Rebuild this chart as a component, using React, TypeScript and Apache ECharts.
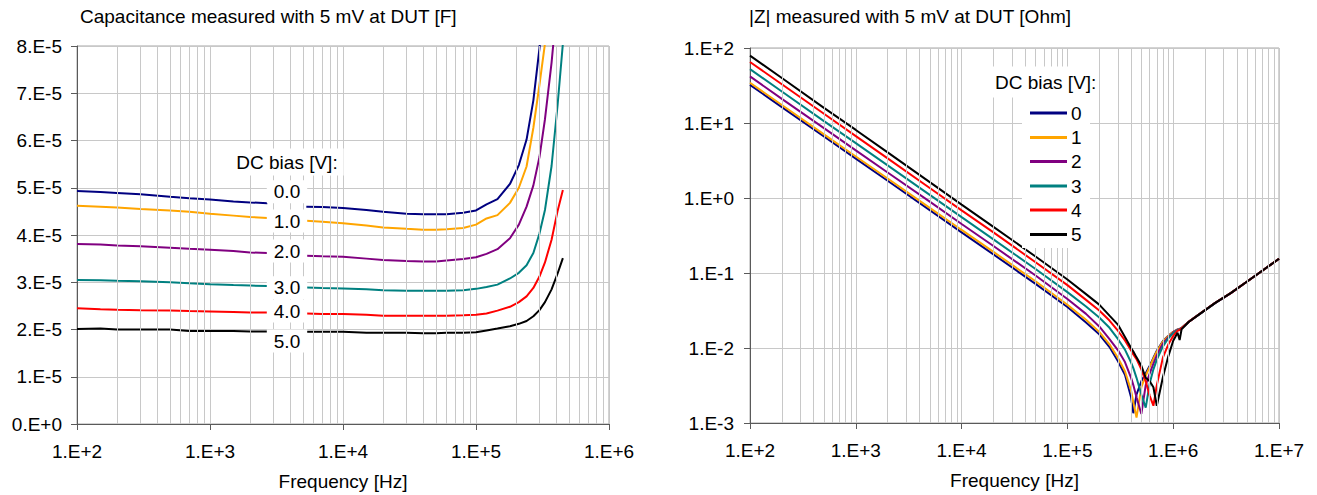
import React, { useEffect, useRef } from 'react';
import * as echarts from 'echarts';

// ---------- Left chart: capacitance (values in 1e-5 F) ----------
const capFreq = [100, 150, 200, 300, 500, 700, 1000, 1500, 2000, 2700, 3800, 5300, 7000, 10000, 15000, 20000, 30000, 40000, 50000, 60000, 80000, 100000, 120000, 145000, 180000, 210000, 240000, 270000, 300000, 330000, 370000, 410000, 450000];
const cap0 = [4.93, 4.91, 4.89, 4.86, 4.81, 4.78, 4.75, 4.71, 4.69, 4.67, null, 4.60, 4.59, 4.57, 4.53, 4.49, 4.45, 4.44, 4.44, 4.44, 4.47, 4.52, 4.65, 4.76, 5.08, 5.48, 6.02, 6.85, 7.95, 9.3, null, null, null];
const cap1 = [4.62, 4.60, 4.58, 4.55, 4.52, 4.49, 4.45, 4.41, 4.38, 4.36, null, 4.30, 4.28, 4.25, 4.20, 4.16, 4.13, 4.11, 4.11, 4.12, 4.15, 4.22, 4.35, 4.42, 4.68, 5.0, 5.45, 6.27, 7.18, 8.05, 9.5, null, null];
const cap2 = [3.81, 3.80, 3.78, 3.76, 3.73, 3.71, 3.69, 3.66, 3.63, 3.62, null, 3.56, 3.55, 3.54, 3.50, 3.47, 3.45, 3.44, 3.44, 3.46, 3.49, 3.53, 3.60, 3.70, 3.93, 4.22, 4.60, 5.05, 5.65, 6.45, 7.65, 9.0, null];
const cap3 = [3.05, 3.04, 3.03, 3.02, 3.00, 2.98, 2.96, 2.94, 2.93, 2.92, null, 2.89, 2.88, 2.87, 2.85, 2.83, 2.82, 2.82, 2.82, 2.82, 2.83, 2.86, 2.90, 2.95, 3.08, 3.20, 3.36, 3.62, 4.03, 4.53, 5.46, 6.73, 8.05];
const cap4 = [2.45, 2.43, 2.42, 2.41, 2.40, 2.39, 2.38, 2.37, 2.36, 2.36, null, 2.34, 2.33, 2.33, 2.31, 2.29, 2.29, 2.29, 2.29, 2.29, 2.30, 2.31, 2.34, 2.40, 2.48, 2.58, 2.70, 2.88, 3.12, 3.42, 3.90, 4.50, 4.95];
const cap5 = [2.01, 2.02, 2.00, 2.00, 2.00, 1.97, 1.97, 1.97, 1.96, 1.96, null, 1.95, 1.95, 1.95, 1.93, 1.93, 1.93, 1.92, 1.92, 1.93, 1.93, 1.94, 1.98, 2.02, 2.07, 2.12, 2.18, 2.28, 2.41, 2.58, 2.85, 3.18, 3.51];
const capSeries = [cap0, cap1, cap2, cap3, cap4, cap5];
const capNames = ['0.0', '1.0', '2.0', '3.0', '4.0', '5.0'];

// ---------- Right chart: |Z| in Ohm ----------
const zFreq = [100, 200, 500, 1e3, 2e3, 5e3, 1e4, 2e4, 5e4, 1e5, 1.5e5, 2e5, 2.5e5, 3e5, 3.5e5, 4e5, 4.2e5, 4.5e5, 5e5, 5.5e5, 6e5, 6.5e5, 7e5, 8e5, 9e5, 1e6, 1.1e6, 1.15e6, 1.2e6, 1.4e6, 1.8e6, 2.5e6, 3.5e6, 5e6, 7e6, 1e7];
const z0 = [32.3, 16.3, 6.62, 3.35, 1.70, 0.690, 0.348, 0.177, 0.0717, 0.0352, 0.0219, 0.0152, 0.0103, 0.0067, 0.0044, 0.0022, 0.00135, 0.0024, 0.0036, 0.0046, 0.0058, 0.0074, 0.0092, 0.0124, 0.0146, 0.0164, 0.0177, 0.0180, 0.0185, 0.0224, 0.0287, 0.0400, 0.0540, 0.0770, 0.108, 0.155];
const z1 = [34.4, 17.4, 7.04, 3.58, 1.82, 0.739, 0.375, 0.191, 0.0775, 0.0377, 0.0238, 0.0164, 0.0112, 0.0074, 0.0049, 0.0027, 0.0019, 0.00118, 0.0030, 0.0043, 0.0056, 0.0072, 0.0090, 0.0122, 0.0145, 0.0163, 0.0176, 0.0179, 0.0185, 0.0224, 0.0288, 0.0401, 0.0541, 0.0771, 0.108, 0.155];
const z2 = [41.8, 21.0, 8.53, 4.31, 2.19, 0.894, 0.450, 0.229, 0.0925, 0.0451, 0.0285, 0.0194, 0.0131, 0.0094, 0.0065, 0.0040, 0.0032, 0.0022, 0.00132, 0.0032, 0.0046, 0.0062, 0.0080, 0.0115, 0.0140, 0.0160, 0.0175, 0.0178, 0.0184, 0.0223, 0.0288, 0.0400, 0.0540, 0.0770, 0.108, 0.155];
const z3 = [52.2, 26.3, 10.6, 5.38, 2.72, 1.10, 0.555, 0.281, 0.113, 0.0556, 0.0358, 0.0255, 0.0186, 0.0132, 0.0095, 0.0064, 0.0054, 0.0040, 0.0024, 0.0016, 0.0034, 0.0052, 0.0070, 0.0105, 0.0135, 0.0157, 0.0173, 0.0176, 0.0184, 0.0224, 0.0287, 0.0400, 0.0541, 0.0771, 0.108, 0.155];
const z4 = [65.0, 32.9, 13.3, 6.69, 3.37, 1.36, 0.683, 0.348, 0.139, 0.0689, 0.0438, 0.0316, 0.0232, 0.0170, 0.0126, 0.0093, 0.0082, 0.0071, 0.0052, 0.0036, 0.0023, 0.0017, 0.0032, 0.0075, 0.0112, 0.0145, 0.0170, 0.0174, 0.0183, 0.0223, 0.0288, 0.0401, 0.0540, 0.0771, 0.108, 0.155];
const z5 = [79.2, 39.8, 15.9, 8.08, 4.06, 1.63, 0.816, 0.412, 0.166, 0.0820, 0.0523, 0.0379, 0.0270, 0.0205, 0.0140, 0.0100, 0.0090, 0.0075, 0.0058, 0.0040, 0.0036, 0.0030, 0.0017, 0.0041, 0.0078, 0.0125, 0.0160, 0.0128, 0.0178, 0.0222, 0.0287, 0.0400, 0.0540, 0.0770, 0.108, 0.155];
const zSeries = [z0, z1, z2, z3, z4, z5];
const zNames = ['0', '1', '2', '3', '4', '5'];

const colors = ['#000080', '#FFA500', '#800080', '#008080', '#FF0000', '#000000'];

// minor vertical grid positions (2..9 within each decade)
const minorMults = [2, 3, 4, 5, 6, 7, 8, 9];
const capDecades = [1e2, 1e3, 1e4, 1e5];
const zDecades = [1e2, 1e3, 1e4, 1e5, 1e6];

const FONT = '"Liberation Sans", Arial, Helvetica, sans-serif';
const FS = 19;
const GRID_COLOR = '#c8c8c8';
const AXIS_COLOR = '#5a5a5a';

function expLabel(v: number) {
  const e = Math.round(Math.log10(v));
  return '1.E' + (e >= 0 ? '+' : '-') + Math.abs(e);
}
function capLabel(v: number) {
  const m = Math.round(v * 1e5);
  return m === 0 ? '0.E+0' : m + '.E-5';
}
function pairs(xs: number[], ys: (number | null)[], scale: number) {
  return xs.map((x, i) => (ys[i] == null ? [x, '-'] : [x, (ys[i] as number) * scale]));
}
function minorLines(decades: number[]) {
  const out: any[] = [];
  decades.forEach((d) => minorMults.forEach((m) => out.push({ xAxis: d * m })));
  return out;
}

const txt = { fontSize: FS, fontFamily: FONT, color: '#000' };

function xAxisBase(gridIndex: number, min: number, max: number, split: number) {
  return {
    type: 'log', logBase: 10, gridIndex, min, max, splitNumber: split,
    name: 'Frequency [Hz]', nameLocation: 'middle', nameGap: 48,
    nameTextStyle: { ...txt },
    axisLine: { show: true, onZero: false, lineStyle: { color: AXIS_COLOR, width: 1 } },
    axisTick: { show: true, inside: false, length: 6, lineStyle: { color: AXIS_COLOR } },
    axisLabel: { formatter: expLabel, margin: 18, ...txt },
    splitLine: { show: true, lineStyle: { color: GRID_COLOR, width: 1 } },
  };
}

function textEl(text: string, x: number, y: number, align: string, padding: number[], bg: boolean) {
  return {
    type: 'text', x, y, z: 100,
    style: {
      text, x: 0, y: 0, fontSize: FS, fontFamily: FONT, fill: '#000',
      align, textAlign: align, verticalAlign: 'middle', textVerticalAlign: 'middle',
      backgroundColor: bg ? '#fff' : undefined, padding,
    },
  };
}

const leftLabelY = [191.7, 221, 251, 287.7, 311, 341];
const legendY = [113, 137.5, 161.5, 186, 210, 234.5];

export default function App() {
  const ref = useRef<HTMLDivElement>(null);
  useEffect(() => {
    const chart = echarts.init(ref.current!, null, { renderer: 'svg' });
    const series: any[] = [];
    series.push({
      type: 'line', xAxisIndex: 0, yAxisIndex: 0, data: [], z: 1, silent: true,
      markLine: { silent: true, symbol: ['none', 'none'], label: { show: false },
        lineStyle: { color: GRID_COLOR, width: 1, type: 'solid' }, emphasis: { disabled: true },
        data: minorLines(capDecades) },
    });
    series.push({
      type: 'line', xAxisIndex: 1, yAxisIndex: 1, data: [], z: 1, silent: true,
      markLine: { silent: true, symbol: ['none', 'none'], label: { show: false },
        lineStyle: { color: GRID_COLOR, width: 1, type: 'solid' }, emphasis: { disabled: true },
        data: minorLines(zDecades) },
    });
    capSeries.forEach((vals, i) => {
      series.push({
        name: capNames[i], type: 'line', xAxisIndex: 0, yAxisIndex: 0, z: 3,
        data: pairs(capFreq, vals, 1e-5), showSymbol: false, symbol: 'none',
        lineStyle: { color: colors[i], width: 2 }, itemStyle: { color: colors[i] },
        emphasis: { disabled: true }, clip: true,
      });
    });
    zSeries.forEach((vals, i) => {
      series.push({
        name: zNames[i], type: 'line', xAxisIndex: 1, yAxisIndex: 1, z: 3,
        data: pairs(zFreq, vals, 1), showSymbol: false, symbol: 'none',
        lineStyle: { color: colors[i], width: 2 }, itemStyle: { color: colors[i] },
        emphasis: { disabled: true }, clip: true,
      });
    });

    const graphics: any[] = [];
    // left chart inline labels
    graphics.push(textEl('DC bias [V]:', 287, 162, 'center', [4, 6], true));
    capNames.forEach((n, i) => graphics.push(textEl(n, 287, leftLabelY[i], 'center', [2, 7], true)));
    // right chart legend
    graphics.push(textEl('DC bias [V]:', 993, 82, 'left', [6, 2], true));
    graphics.push({ type: 'rect', z: 90, shape: { x: 1022, y: 97, width: 68, height: 151 }, style: { fill: '#fff' } });
    zNames.forEach((n, i) => {
      graphics.push({ type: 'line', z: 101, shape: { x1: 1030, y1: legendY[i], x2: 1067, y2: legendY[i] },
        style: { stroke: colors[i], lineWidth: 3 } });
      graphics.push(textEl(n, 1071, legendY[i], 'left', [0, 0], false));
    });

    chart.setOption({
      animation: false,
      backgroundColor: '#fff',
      title: [
        { text: 'Capacitance measured with 5 mV at DUT [F]', left: 80, top: 7, padding: 0,
          textStyle: { ...txt, fontWeight: 'normal' } },
        { text: '|Z| measured with 5 mV at DUT [Ohm]', left: 749, top: 7, padding: 0,
          textStyle: { ...txt, fontWeight: 'normal' } },
      ],
      grid: [
        { left: 77, top: 46, width: 532, height: 378, show: true, borderColor: '#a6a6a6', borderWidth: 1, backgroundColor: 'transparent', outerBoundsMode: 'none', containLabel: false },
        { left: 750, top: 48, width: 529, height: 375, show: true, borderColor: '#a6a6a6', borderWidth: 1, backgroundColor: 'transparent', outerBoundsMode: 'none', containLabel: false },
      ],
      xAxis: [xAxisBase(0, 100, 1e6, 4), xAxisBase(1, 100, 1e7, 5)],
      yAxis: [
        {
          type: 'value', gridIndex: 0, min: 0, max: 8e-5, interval: 1e-5,
          axisLine: { show: true, onZero: false, lineStyle: { color: AXIS_COLOR } },
          axisTick: { show: true, inside: false, length: 6, lineStyle: { color: AXIS_COLOR } },
          axisLabel: { formatter: capLabel, margin: 15, ...txt },
          splitLine: { show: true, lineStyle: { color: GRID_COLOR } },
        },
        {
          type: 'log', logBase: 10, gridIndex: 1, min: 1e-3, max: 1e2, splitNumber: 5,
          axisLine: { show: true, onZero: false, lineStyle: { color: AXIS_COLOR } },
          axisTick: { show: true, inside: false, length: 6, lineStyle: { color: AXIS_COLOR } },
          axisLabel: { formatter: expLabel, margin: 16, ...txt },
          splitLine: { show: true, lineStyle: { color: GRID_COLOR } },
        },
      ],
      graphic: graphics,
      series,
    });
    return () => chart.dispose();
  }, []);
  return <div ref={ref} style={{ position: 'absolute', left: 0, top: 0, width: 1317, height: 495, background: '#fff' }} />;
}
